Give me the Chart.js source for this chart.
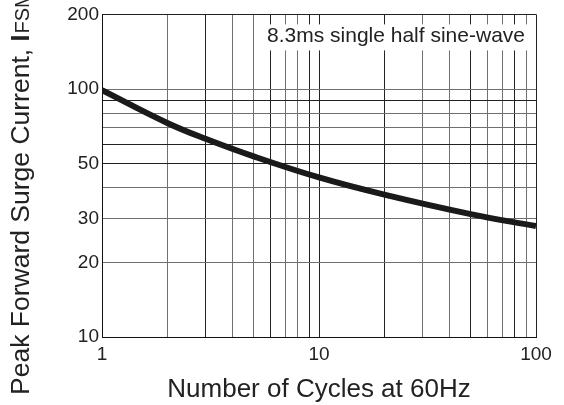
<!DOCTYPE html>
<html>
<head>
<meta charset="utf-8">
<script src="https://cdn.jsdelivr.net/npm/chart.js@4"></script>
<style>
  html, body { margin: 0; padding: 0; background: #fff; }
  #wrap { width: 564px; height: 405px; }
</style>
</head>
<body>
<div id="wrap"><canvas id="surgeChart" width="564" height="405"></canvas></div>
<script>
// curve
const cycles = [1, 2, 3, 5, 10, 20, 50, 100];
const surgeAmps = [99, 73, 63, 53.5, 44, 37.5, 31.3, 28];

// axis ticks / grid
const xGrid = [1, 2, 3, 4, 5, 6, 7, 8, 9, 10, 20, 30, 40, 50, 60, 70, 80, 90, 100];
const xLabels = [1, 10, 100];
const yGrid = [10, 20, 30, 40, 50, 60, 70, 80, 90, 100, 200];
const yLabels = [10, 20, 30, 50, 100, 200];

const darkX = [1, 3, 6, 9, 10, 20, 50, 80, 100];
const darkY = [10, 50, 60, 90, 200];

const noteText = '8.3ms single half sine-wave';

const fontFam = '"Liberation Sans", Arial, sans-serif';

// y axis title, runs off the top like the original
const yTitlePlugin = {
    id: 'yTitle',
    afterDraw(chart) {
        const c = chart.ctx;
        c.save();
        c.translate(29, 395);
        c.rotate(-Math.PI / 2);
        c.fillStyle = '#222';
        c.textBaseline = 'alphabetic';
        c.textAlign = 'left';
        c.font = '26.5px ' + fontFam;
        const main = 'Peak Forward Surge Current, ';
        c.fillText(main, 0, 0);
        let w = c.measureText(main).width;
        c.font = 'bold 25px ' + fontFam;
        c.fillText('I', w, 0);
        w += c.measureText('I').width + 1;
        c.font = '20px ' + fontFam;
        c.fillText('FSM', w, 0);
        c.restore();
    }
};

// note box in upper right corner
const notePlugin = {
    id: 'note',
    afterDatasetsDraw(chart) {
        const a = chart.chartArea;
        const c = chart.ctx;
        c.save();
        c.font = '21px ' + fontFam;
        const tw = c.measureText(noteText).width;
        const x1 = a.right - 9;
        const x0 = x1 - tw - 4;
        c.fillStyle = '#fff';
        c.fillRect(x0, a.top + 10, x1 - x0, 26);
        c.fillStyle = '#222';
        c.textBaseline = 'alphabetic';
        c.fillText(noteText, x0 + 2, a.top + 28);
        c.restore();
    }
};

const ctx = document.getElementById('surgeChart').getContext('2d');
const surgeChart = new Chart(ctx, {
    type: 'line',
    data: {
        datasets: [{
            data: cycles.map((c, i) => ({ x: c, y: surgeAmps[i] })),
            borderColor: '#1a1a1a',
            borderWidth: 6,
            pointRadius: 0,
            fill: false,
            tension: 0.4
        }]
    },
    options: {
        responsive: false,
        animation: false,
        layout: { padding: { top: 10, right: 28, left: 0, bottom: 0 } },
        plugins: {
            legend: { display: false },
            tooltip: { enabled: false }
        },
        scales: {
            x: {
                type: 'logarithmic',
                min: 1,
                max: 100,
                afterBuildTicks: (s) => { s.ticks = xGrid.map(v => ({ value: v })); },
                afterFit: (s) => { s.height = 68; },
                ticks: {
                    autoSkip: false,
                    maxRotation: 0,
                    padding: 6,
                    color: '#222',
                    font: { family: fontFam, size: 19 },
                    callback: (v) => xLabels.includes(v) ? String(v) : ''
                },
                grid: {
                    drawTicks: false,
                    color: (c) => darkX.includes(c.tick && c.tick.value) ? '#222' : '#707070',
                    lineWidth: 1
                },
                border: { display: true, color: '#111', width: 1 },
                title: {
                    display: true,
                    text: 'Number of Cycles at 60Hz',
                    color: '#222',
                    font: { family: fontFam, size: 26 },
                    padding: { top: 6, bottom: 0 }
                }
            },
            y: {
                type: 'logarithmic',
                min: 10,
                max: 200,
                afterBuildTicks: (s) => { s.ticks = yGrid.map(v => ({ value: v })); },
                afterFit: (s) => { s.width = 102; },
                ticks: {
                    autoSkip: false,
                    padding: 3,
                    color: '#222',
                    font: { family: fontFam, size: 19 },
                    callback: (v) => yLabels.includes(v) ? String(v) : ''
                },
                grid: {
                    drawTicks: false,
                    color: (c) => darkY.includes(c.tick && c.tick.value) ? '#222' : '#707070',
                    lineWidth: 1
                },
                border: { display: true, color: '#111', width: 1 }
            }
        }
    },
    plugins: [notePlugin, yTitlePlugin]
});
</script>
</body>
</html>
